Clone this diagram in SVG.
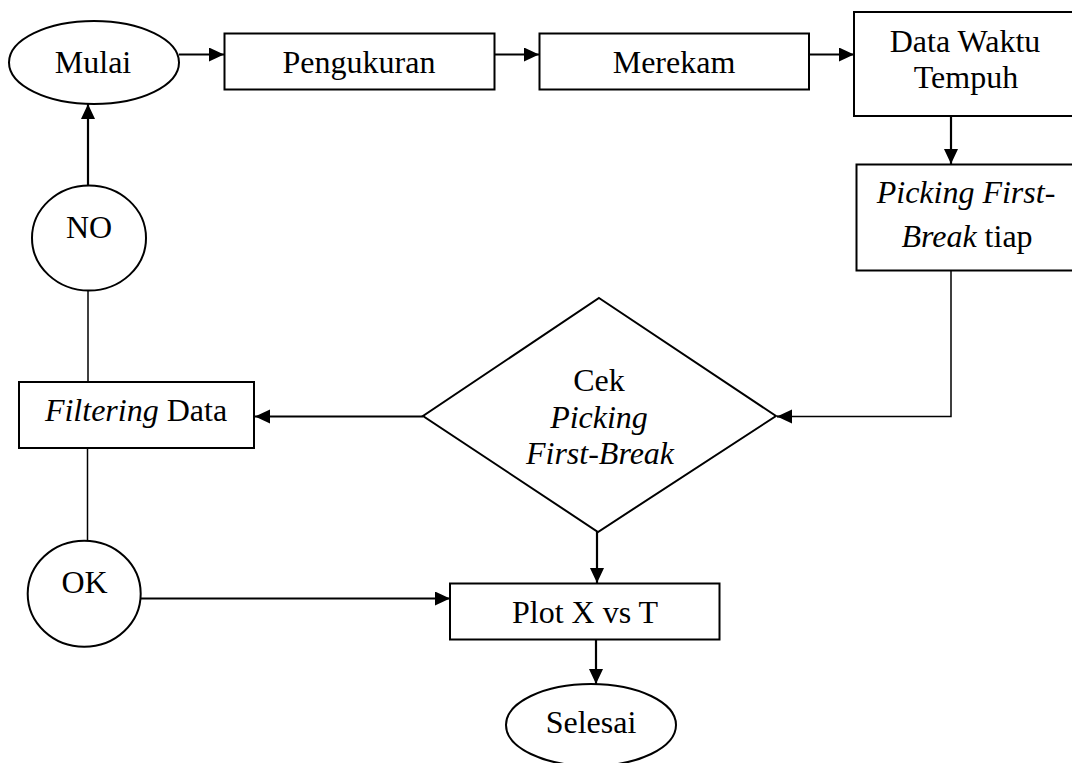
<svg xmlns="http://www.w3.org/2000/svg" width="1072" height="763" viewBox="0 0 1072 763">
<style>
.s{fill:#fff;stroke:#000;stroke-width:2}
.t{font-family:"Liberation Serif","Times New Roman",serif;font-size:32px;fill:#000;text-anchor:middle}
.i{font-style:italic}
.c{fill:none;stroke:#000;stroke-width:2.2}
.n{fill:none;stroke:#000;stroke-width:1.5}
</style>
<defs>
<marker id="ah" markerUnits="userSpaceOnUse" markerWidth="16" markerHeight="16" refX="15" refY="7" orient="auto">
<path d="M0,0 L15,7 L0,14 z" fill="#000"/>
</marker>
</defs>
<rect width="1072" height="763" fill="#fff"/>
<g id="connectors">
<line class="c" x1="179" y1="54.5" x2="224" y2="54.5" marker-end="url(#ah)"/>
<line class="c" x1="494" y1="54.5" x2="539" y2="54.5" marker-end="url(#ah)"/>
<line class="c" x1="809" y1="54.5" x2="854" y2="54.5" marker-end="url(#ah)"/>
<line class="c" x1="951" y1="117" x2="951" y2="164" marker-end="url(#ah)"/>
<polyline class="n" points="951,271 951,416.5 790,416.5"/>
<line class="c" x1="790" y1="416.5" x2="777" y2="416.5" marker-end="url(#ah)"/>
<line class="c" x1="423" y1="416.5" x2="255" y2="416.5" marker-end="url(#ah)"/>
<line class="c" x1="88" y1="185" x2="88" y2="104" marker-end="url(#ah)"/>
<line class="n" x1="88" y1="289" x2="88" y2="382"/>
<line class="n" x1="87.5" y1="448" x2="87.5" y2="545"/>
<line class="c" x1="134.5" y1="598.5" x2="450" y2="598.5" marker-end="url(#ah)"/>
<line class="c" x1="597" y1="532" x2="597" y2="583" marker-end="url(#ah)"/>
<line class="c" x1="596" y1="639" x2="596" y2="684" marker-end="url(#ah)"/>
</g>
<g id="mulai">
<ellipse class="s" cx="94" cy="62.5" rx="85" ry="41.5"/>
<text class="t" x="93" y="73">Mulai</text>
</g>
<g id="pengukuran">
<rect class="s" x="224.5" y="33.5" width="270" height="56"/>
<text class="t" x="359" y="73.3">Pengukuran</text>
</g>
<g id="merekam">
<rect class="s" x="539.5" y="33.5" width="269.5" height="56"/>
<text class="t" x="674" y="73.3">Merekam</text>
</g>
<g id="data-waktu">
<rect class="s" x="854" y="12" width="226" height="104"/>
<text class="t" x="965" y="52">Data Waktu</text>
<text class="t" x="966" y="87.5">Tempuh</text>
</g>
<g id="picking">
<rect class="s" x="856.5" y="164.5" width="224" height="106"/>
<text class="t" x="966" y="203"><tspan class="i">Picking First-</tspan></text>
<text class="t" x="967" y="247"><tspan class="i">Break</tspan> tiap</text>
</g>
<g id="cek">
<polygon class="s" points="599,298 776,416 598,532 423,416"/>
<text class="t" x="599" y="391">Cek</text>
<text class="t i" x="599" y="428">Picking</text>
<text class="t i" x="600" y="464">First-Break</text>
</g>
<g id="filtering">
<rect class="s" x="19" y="382" width="235" height="66"/>
<text class="t" x="136" y="421"><tspan class="i">Filtering</tspan> Data</text>
</g>
<g id="no">
<ellipse class="s" cx="89" cy="238" rx="57" ry="52.5"/>
<text class="t" x="89" y="238">NO</text>
</g>
<g id="ok">
<ellipse class="s" cx="84.2" cy="593.7" rx="56.5" ry="53"/>
<text class="t" x="84.5" y="592.7">OK</text>
</g>
<g id="plot">
<rect class="s" x="450" y="583.5" width="269.5" height="56"/>
<text class="t" x="585" y="622.5">Plot X vs T</text>
</g>
<g id="selesai">
<ellipse class="s" cx="591" cy="725" rx="85" ry="41"/>
<text class="t" x="591" y="733">Selesai</text>
</g>
</svg>
